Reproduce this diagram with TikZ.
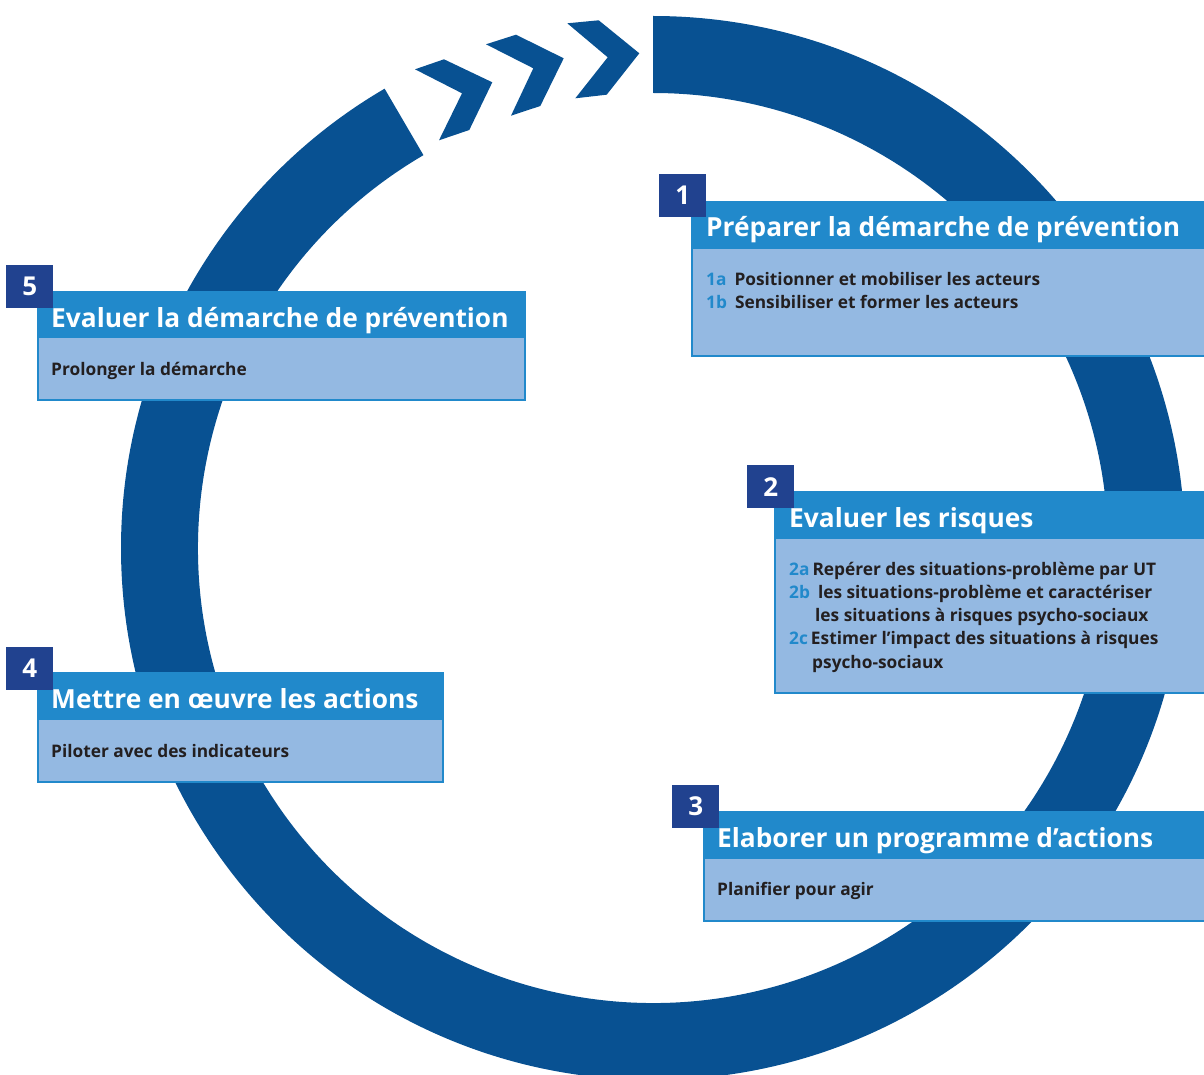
\documentclass[tikz,border=0pt]{standalone}
\usepackage{fontspec}
\setmainfont{Open Sans}
\usetikzlibrary{calc}
\definecolor{ringblue}{RGB}{8,81,146}
\definecolor{barblue}{RGB}{33,137,203}
\definecolor{bodyblue}{RGB}{148,185,226}
\definecolor{numblue}{RGB}{33,66,143}
\definecolor{txtdark}{RGB}{35,31,32}
\begin{document}
\begin{tikzpicture}[x=1pt,y=-1pt,
 boxbody/.style={fill=bodyblue, draw=barblue, line width=1.5pt, inner sep=0pt, outer sep=0pt, anchor=north west},
 boxbar/.style={fill=barblue, inner sep=0pt, outer sep=0pt, anchor=north west},
 numbox/.style={fill=numblue, text=white, font=\bfseries\fontsize{26}{26}\selectfont, inner sep=0pt, minimum width=47pt, minimum height=43pt, anchor=north west},
 titletext/.style={text=white, font=\bfseries\fontsize{26.3}{26}\selectfont, anchor=base west, inner sep=0pt},
 bodytext/.style={text=txtdark, font=\bfseries\fontsize{17.3}{23.3}\selectfont, anchor=base west, inner sep=0pt},
 chev/.style={fill=ringblue}
]
\useasboundingbox (0,0) rectangle (1204,1075);
\clip (0,0) rectangle (1204,1075);
\coordinate (c) at (653,548);
% ring
\fill[ringblue] ($(c)+(-90:532)$) arc[start angle=-90,end angle=239.7,radius=532]
  -- ($(c)+(239.7:455)$) arc[start angle=239.7,end angle=-90,radius=455] -- cycle;
% chevrons
\fill[chev] (415,69.3) -- (444,59.3) -- (492.3,82.3) -- (469.3,130) -- (439,140.3) -- (462,93.3) -- cycle;
\fill[chev] (486,44.3) -- (516,34.7) -- (563.7,58.3) -- (540.3,106) -- (511,115.7) -- (533.3,68.3) -- cycle;
\fill[chev] (567.3,23.3) -- (598.7,20.3) -- (639.3,53.3) -- (606.7,94.7) -- (575.3,98.3) -- (607.7,57.3) -- cycle;

% Box 1
\node[boxbody, minimum width=530pt, minimum height=154pt] (b1) at (692,202) {};
\node[boxbar, minimum width=530pt, minimum height=47pt] (h1) at (692,202) {};
\node[numbox] (n1) at (659,174) {1};
\node[titletext] (t1) at (706,237) {Préparer la démarche de prévention};
\node[bodytext] (s1) at (706,285) {\begin{tabular}[t]{@{}l@{}}\textcolor{barblue}{1a}\hspace{8pt}Positionner et mobiliser les acteurs\\
\textcolor{barblue}{1b}\hspace{8pt}Sensibiliser et former les acteurs\end{tabular}};

% Box 2
\node[boxbody, minimum width=450pt, minimum height=201pt] (b2) at (775,492) {};
\node[boxbar, minimum width=450pt, minimum height=47pt] (h2) at (775,492) {};
\node[numbox] (n2) at (747,465) {2};
\node[titletext] (t2) at (789,527) {Evaluer les risques};
\node[bodytext] (s2) at (789,575) {\begin{tabular}[t]{@{}l@{}}\textcolor{barblue}{2a}\hspace{3pt}Repérer des situations-problème par UT\\
\textcolor{barblue}{2b}\hspace{8pt}les situations-problème et caractériser\\
\hspace{26pt}les situations à risques psycho-sociaux\\
\textcolor{barblue}{2c}\hspace{3pt}Estimer l’impact des situations à risques\\
\hspace{23pt}psycho-sociaux\end{tabular}};

% Box 3
\node[boxbody, minimum width=510pt, minimum height=109pt] (b3) at (704,812) {};
\node[boxbar, minimum width=510pt, minimum height=47pt] (h3) at (704,812) {};
\node[numbox] (n3) at (672,785) {3};
\node[titletext] (t3) at (717,847) {Elaborer un programme d’actions};
\node[bodytext] (s3) at (717,895) {Planifier pour agir};

% Box 4
\node[boxbody, minimum width=405pt, minimum height=109pt] (b4) at (38,673) {};
\node[boxbar, minimum width=405pt, minimum height=47pt] (h4) at (38,673) {};
\node[numbox] (n4) at (6,647) {4};
\node[titletext] (t4) at (51,708) {Mettre en œuvre les actions};
\node[bodytext] (s4) at (51,757) {Piloter avec des indicateurs};

% Box 5
\node[boxbody, minimum width=487pt, minimum height=108pt] (b5) at (38,292) {};
\node[boxbar, minimum width=487pt, minimum height=46pt] (h5) at (38,292) {};
\node[numbox] (n5) at (6,265) {5};
\node[titletext] (t5) at (51,327) {Evaluer la démarche de prévention};
\node[bodytext] (s5) at (51,375) {Prolonger la démarche};
\end{tikzpicture}
\end{document}
